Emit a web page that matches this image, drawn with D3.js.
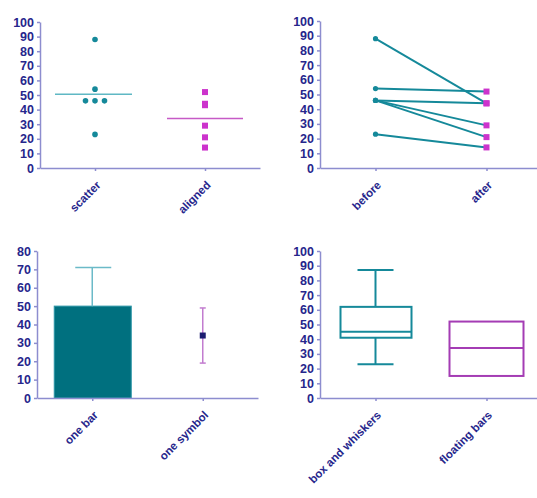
<!DOCTYPE html>
<html><head><meta charset="utf-8">
<script src="https://cdn.jsdelivr.net/npm/d3@7"></script>
<style>
body{margin:0;background:#fff;}
svg{display:block;}
text{font-family:"Liberation Sans",Arial,sans-serif;font-weight:bold;}
</style></head>
<body>
<svg id="c" width="537" height="498"></svg>
<script>
// ---- data ----
const p1Cats = ["scatter","aligned"];
const scatterVals = [88,54,46,46,46,23];
const alignedVals = [52,44,43,29,21,14];
const p2Cats = ["before","after"];
const beforeVals = [88,54,46,46,46,23];
const afterVals  = [44,52,44,29,21,14];
const p3Cats = ["one bar","one symbol"];
const barMean = 50, barErr = 71;
const symMean = 34, symLow = 19, symHigh = 49;
const p4Cats = ["box and whiskers","floating bars"];
const boxStats = {min:23, q1:41, median:45, q3:62, max:87};
const floatStats = {low:15, mid:34, high:52};
const ticks100 = [0,10,20,30,40,50,60,70,80,90,100];
const ticks80 = [0,10,20,30,40,50,60,70,80];

// ---- styles ----
const textCol = "#26268c", axisCol = "#8d8dcf";
const teal = "#15899a", barFill = "#00707f", magenta = "#cc33cc", purple = "#a43cb4";

const svg = d3.select("#c");

function panel(cats, xr, yr, ymax, ticks){
  const g = svg.append("g");
  const x = d3.scalePoint().domain(cats).range(xr).padding(0.5);
  const y = d3.scaleLinear().domain([0,ymax]).range(yr);
  const ya = g.append("g").attr("transform",`translate(${xr[0]},0)`)
    .call(d3.axisLeft(y).tickValues(ticks).tickSize(3).tickPadding(3).tickSizeOuter(0));
  ya.select(".domain").attr("stroke",axisCol).attr("stroke-width",1.5);
  ya.selectAll(".tick line").attr("stroke",axisCol).attr("stroke-width",1.5);
  ya.selectAll("text").attr("fill",textCol).attr("font-size",12.5).attr("font-family","'Liberation Sans',Arial,sans-serif").attr("font-weight","bold");
  const xa = g.append("g").attr("transform",`translate(0,${yr[0]})`)
    .call(d3.axisBottom(x).tickSize(3).tickSizeOuter(0));
  xa.select(".domain").attr("stroke",axisCol).attr("stroke-width",1.5);
  xa.selectAll(".tick line").attr("stroke",axisCol).attr("stroke-width",1.5);
  xa.selectAll("text").attr("fill",textCol).attr("font-size",11.5)
    .attr("font-family","'DejaVu Sans',sans-serif").attr("font-weight","bold")
    .attr("text-anchor","end").attr("x",0).attr("y",0).attr("dy","0.35em")
    .attr("transform","translate(3,15) rotate(-45)");
  return {g,x,y};
}

// Panel 1: scatter / aligned
{
  const {g,x,y} = panel(p1Cats,[40,260],[168,22],100,ticks100);
  const cx = x("scatter");
  const counts = {};
  const offs = scatterVals.map(v=>{counts[v]=(counts[v]||0)+1;return counts[v];});
  const totals = {}; scatterVals.forEach(v=>totals[v]=(totals[v]||0)+1);
  const mean1 = d3.mean(scatterVals);
  g.append("line").attr("x1",cx-40).attr("x2",cx+37).attr("y1",y(mean1)).attr("y2",y(mean1))
    .attr("stroke","#5fb8c4").attr("stroke-width",1.5);
  scatterVals.forEach((v,i)=>{
    const n = totals[v], k = offs[i]-1;
    const dx = (k-(n-1)/2)*9.5;
    g.append("circle").attr("cx",cx+dx).attr("cy",y(v)).attr("r",2.8).attr("fill",teal);
  });
  const ax = x("aligned");
  const mean2 = d3.mean(alignedVals);
  g.append("line").attr("x1",ax-38).attr("x2",ax+38).attr("y1",y(mean2)).attr("y2",y(mean2))
    .attr("stroke","#c65ac6").attr("stroke-width",1.5);
  alignedVals.forEach(v=>{
    g.append("rect").attr("x",ax-3).attr("y",y(v)-3).attr("width",6).attr("height",6).attr("fill",magenta);
  });
}

// Panel 2: before / after
{
  const {g,x,y} = panel(p2Cats,[320,542],[168,21],100,ticks100);
  beforeVals.forEach((b,i)=>{
    g.append("line").attr("x1",x("before")).attr("y1",y(b)).attr("x2",x("after")).attr("y2",y(afterVals[i]))
      .attr("stroke",teal).attr("stroke-width",2);
  });
  beforeVals.forEach(b=>g.append("circle").attr("cx",x("before")).attr("cy",y(b)).attr("r",2.6).attr("fill",teal));
  afterVals.forEach(a=>g.append("rect").attr("x",x("after")-3).attr("y",y(a)-3).attr("width",6).attr("height",6).attr("fill",magenta));
}

// Panel 3: one bar / one symbol
{
  const {g,x,y} = panel(p3Cats,[37,258],[398,251],80,ticks80);
  const bx = x("one bar");
  g.append("line").attr("x1",bx).attr("x2",bx).attr("y1",y(barMean)).attr("y2",y(barErr)).attr("stroke","#6bbac8").attr("stroke-width",1.5);
  g.append("line").attr("x1",bx-17).attr("x2",bx+19).attr("y1",y(barErr)).attr("y2",y(barErr)).attr("stroke","#6bbac8").attr("stroke-width",1.5);
  g.insert("rect",":first-child").attr("x",bx-38).attr("width",77).attr("y",y(barMean)).attr("height",y(0)-y(barMean))
    .attr("fill",barFill).attr("stroke","#2b95a6").attr("stroke-width",1);
  const sx = x("one symbol");
  g.append("line").attr("x1",sx).attr("x2",sx).attr("y1",y(symLow)).attr("y2",y(symHigh)).attr("stroke","#c27ccf").attr("stroke-width",1.5);
  [symLow,symHigh].forEach(v=>g.append("line").attr("x1",sx-3).attr("x2",sx+3).attr("y1",y(v)).attr("y2",y(v)).attr("stroke","#c27ccf").attr("stroke-width",1.5));
  g.append("rect").attr("x",sx-3).attr("y",y(symMean)-3).attr("width",6).attr("height",6).attr("fill","#1c1c70");
}

// Panel 4: box and whiskers / floating bars
{
  const {g,x,y} = panel(p4Cats,[320,542],[398,251],100,ticks100);
  const bx = x("box and whiskers");
  const s = boxStats;
  g.append("line").attr("x1",bx).attr("x2",bx).attr("y1",y(s.max)).attr("y2",y(s.q3)).attr("stroke",teal).attr("stroke-width",2);
  g.append("line").attr("x1",bx).attr("x2",bx).attr("y1",y(s.q1)).attr("y2",y(s.min)).attr("stroke",teal).attr("stroke-width",2);
  [s.min,s.max].forEach(v=>g.append("line").attr("x1",bx-18).attr("x2",bx+18).attr("y1",y(v)).attr("y2",y(v)).attr("stroke",teal).attr("stroke-width",2));
  g.append("rect").attr("x",bx-35).attr("width",71).attr("y",y(s.q3)).attr("height",y(s.q1)-y(s.q3))
    .attr("fill","none").attr("stroke",teal).attr("stroke-width",2);
  g.append("line").attr("x1",bx-35).attr("x2",bx+36).attr("y1",y(s.median)).attr("y2",y(s.median)).attr("stroke",teal).attr("stroke-width",2);
  const fx = x("floating bars");
  const f = floatStats;
  g.append("rect").attr("x",fx-37).attr("width",74).attr("y",y(f.high)).attr("height",y(f.low)-y(f.high))
    .attr("fill","none").attr("stroke",purple).attr("stroke-width",2);
  g.append("line").attr("x1",fx-37).attr("x2",fx+37).attr("y1",y(f.mid)).attr("y2",y(f.mid)).attr("stroke",purple).attr("stroke-width",2);
}
</script>
</body></html>
